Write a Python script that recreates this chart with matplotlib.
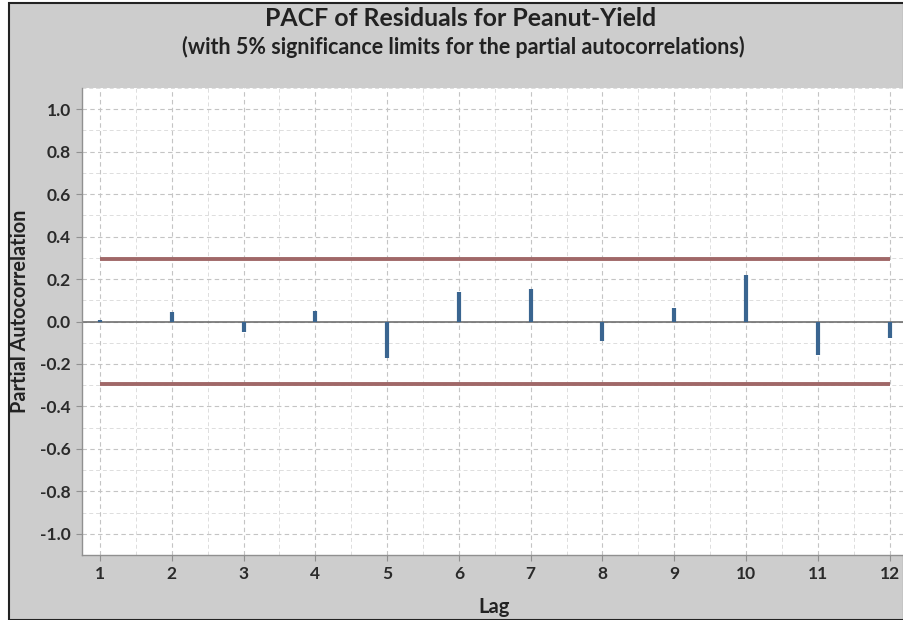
import matplotlib
matplotlib.use("Agg")
import matplotlib.pyplot as plt
from matplotlib.patches import Rectangle
from matplotlib.ticker import MultipleLocator

lags = [1, 2, 3, 4, 5, 6, 7, 8, 9, 10, 11, 12]
pacf = [0.005, 0.045, -0.05, 0.05, -0.17, 0.14, 0.155, -0.09, 0.065, 0.22, -0.16, -0.08]
sig_limit = 0.295
yticks = [1.0, 0.8, 0.6, 0.4, 0.2, 0.0, -0.2, -0.4, -0.6, -0.8, -1.0]
title = "PACF of Residuals for Peanut-Yield"
subtitle = "(with 5% significance limits for the partial autocorrelations)"

plt.rcParams['font.family'] = ['Lato', 'DejaVu Sans']

W, H = 904, 620
fig = plt.figure(figsize=(W/100, H/100), dpi=100, facecolor='white')
fig.patches.append(Rectangle((9/W, 0), 1 - 9/W, 1 - 3/H, transform=fig.transFigure,
                             facecolor='#cdcdcd', edgecolor='#222222', linewidth=1.5, zorder=-10))

ax = fig.add_axes([82/W, 1 - 555/H, (W - 82)/W, (555 - 88)/H])
ax.set_facecolor('white')
ax.set_xlim(0.75, 12.2)
ax.set_ylim(-1.1, 1.1)

ax.xaxis.set_minor_locator(MultipleLocator(0.5))
ax.set_yticks(yticks)
ax.yaxis.set_minor_locator(MultipleLocator(0.1))
ax.grid(which='major', color='#c4c4c4', linestyle=(0, (4, 3)), linewidth=0.8)
ax.grid(which='minor', color='#dddddd', linestyle=(0, (4, 3)), linewidth=0.7)
ax.set_axisbelow(True)

ax.axhline(0, color='#707070', linewidth=1.2, zorder=2)
ax.hlines([sig_limit, -sig_limit], lags[0], lags[-1], color='#a06868', linewidth=2.8, zorder=3)
ax.vlines(lags, 0, pacf, color='#3a6590', linewidth=3, zorder=4)

for s in ['top', 'right']:
    ax.spines[s].set_visible(False)
for s in ['left', 'bottom']:
    ax.spines[s].set_color('#909090')
    ax.spines[s].set_linewidth(1)

ax.tick_params(axis='both', which='major', length=4, color='#909090', labelsize=12.5,
               labelcolor='#2a2a2a', pad=4)
ax.tick_params(axis='both', which='minor', length=0)
ax.set_xticks(lags)
ax.set_xticklabels([str(l) for l in lags], fontweight='bold')
ax.set_yticklabels([f"{v:.1f}" for v in yticks], fontweight='bold')

fig.text(494/W, 1 - 607/H, "Lag", ha='center', va='center', fontsize=14.5, color='#222222', fontweight='bold')
fig.text(20/W, 1 - 311/H, "Partial Autocorrelation", ha='center', va='center', rotation=90,
         fontsize=14.3, color='#222222', fontweight='bold')
fig.text(461/W, 1 - 18/H, title, ha='center', va='center', fontsize=17.9, color='#222222', fontweight='bold')
fig.text(463/W, 1 - 47/H, subtitle, ha='center', va='center', fontsize=15.5, color='#222222', fontweight='bold')

fig.savefig("out.png", dpi=100, facecolor=fig.get_facecolor())
